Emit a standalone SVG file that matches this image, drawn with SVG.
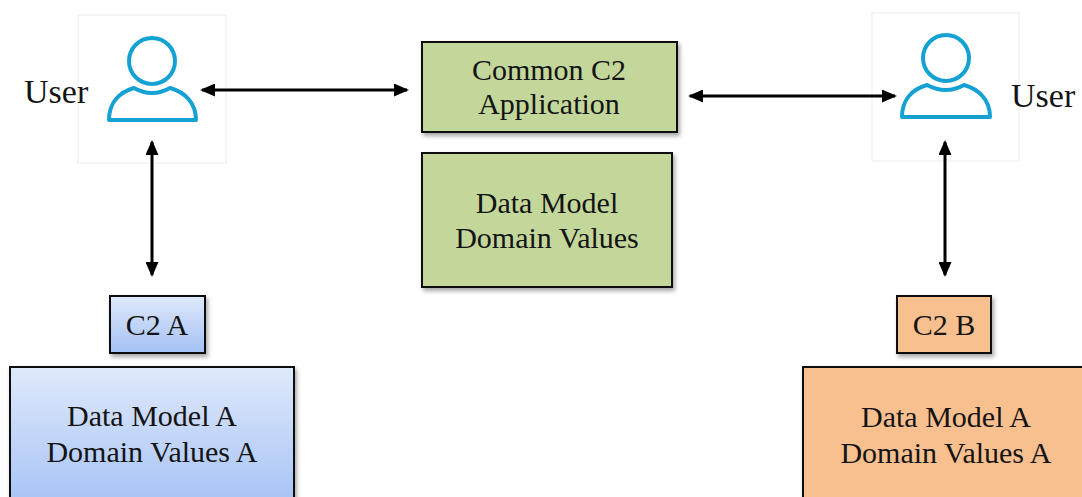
<svg xmlns="http://www.w3.org/2000/svg" width="1082" height="497" viewBox="0 0 1082 497">
  <style>
    .lbl { font-family: "Liberation Serif", "Times New Roman", serif; font-size: 30px; fill: #141414; text-anchor: middle; }
    .usr { font-family: "Liberation Serif", "Times New Roman", serif; font-size: 34px; fill: #141414; }
    .box { stroke: #111; stroke-width: 2; }
    .frame { fill: #ffffff; stroke: #ececec; stroke-width: 1; }
    .icon { fill: none; stroke: #15a2d2; stroke-width: 4; stroke-linejoin: round; }
    .conn { stroke: #000; stroke-width: 3; fill: none; }
  </style>
  <defs>
    <linearGradient id="gBlue" x1="0" y1="0" x2="0" y2="1">
      <stop offset="0" stop-color="#e0e9fb"/>
      <stop offset="1" stop-color="#a3c1f5"/>
    </linearGradient>
    <filter id="sh" x="-10%" y="-10%" width="130%" height="130%">
      <feDropShadow dx="2" dy="3" stdDeviation="2" flood-color="#000" flood-opacity="0.35"/>
    </filter>
    <marker id="ah" markerUnits="userSpaceOnUse" markerWidth="15" markerHeight="13" refX="13" refY="6.5" orient="auto-start-reverse">
      <path d="M0,0 L15,6.5 L0,13 Z" fill="#000"/>
    </marker>
  </defs>
  <rect width="1082" height="497" fill="#ffffff"/>

  <g id="user-left">
    <rect class="frame" x="78" y="15" width="148" height="148"/>
    <circle class="icon" cx="152" cy="61" r="23"/>
    <path class="icon" d="M109,120 C109,102 120,92 134,88 Q152,98 170,88 C184,92 196,102 196,120 Z"/>
    <text class="usr" x="24" y="103">User</text>
  </g>

  <g id="user-right">
    <rect class="frame" x="872" y="13" width="147" height="148"/>
    <circle class="icon" cx="946" cy="58" r="23"/>
    <path class="icon" d="M902,117 C902,99 913,89 927,85 Q946,95 964,85 C978,89 990,99 990,117 Z"/>
    <text class="usr" x="1011" y="107">User</text>
  </g>

  <g id="common-c2">
    <rect class="box" x="422" y="42" width="255" height="90" fill="#c4d79b" filter="url(#sh)"/>
    <text class="lbl" x="549" y="80">Common C2</text>
    <text class="lbl" x="549" y="114">Application</text>
  </g>

  <g id="data-model">
    <rect class="box" x="422" y="153" width="250" height="134" fill="#c4d79b" filter="url(#sh)"/>
    <text class="lbl" x="547" y="213">Data Model</text>
    <text class="lbl" x="547" y="248">Domain Values</text>
  </g>

  <g id="c2-a">
    <rect class="box" x="110" y="296" width="95" height="57" fill="url(#gBlue)" filter="url(#sh)"/>
    <text class="lbl" x="157" y="335">C2 A</text>
  </g>

  <g id="data-model-a-left">
    <rect class="box" x="10" y="367" width="284" height="145" fill="url(#gBlue)" filter="url(#sh)"/>
    <text class="lbl" x="152" y="426">Data Model A</text>
    <text class="lbl" x="152" y="462">Domain Values A</text>
  </g>

  <g id="c2-b">
    <rect class="box" x="897" y="296" width="94" height="57" fill="#f9c08f" filter="url(#sh)"/>
    <text class="lbl" x="944" y="335">C2 B</text>
  </g>

  <g id="data-model-a-right">
    <rect class="box" x="803" y="367" width="300" height="145" fill="#f9c08f" filter="url(#sh)"/>
    <text class="lbl" x="946" y="427">Data Model A</text>
    <text class="lbl" x="946" y="463">Domain Values A</text>
  </g>

  <g id="connectors">
    <line class="conn" x1="202" y1="90" x2="407" y2="90" marker-start="url(#ah)" marker-end="url(#ah)"/>
    <line class="conn" x1="690" y1="96" x2="895" y2="96" marker-start="url(#ah)" marker-end="url(#ah)"/>
    <line class="conn" x1="152" y1="142" x2="152" y2="275" marker-start="url(#ah)" marker-end="url(#ah)"/>
    <line class="conn" x1="945" y1="142" x2="945" y2="275" marker-start="url(#ah)" marker-end="url(#ah)"/>
  </g>
</svg>
